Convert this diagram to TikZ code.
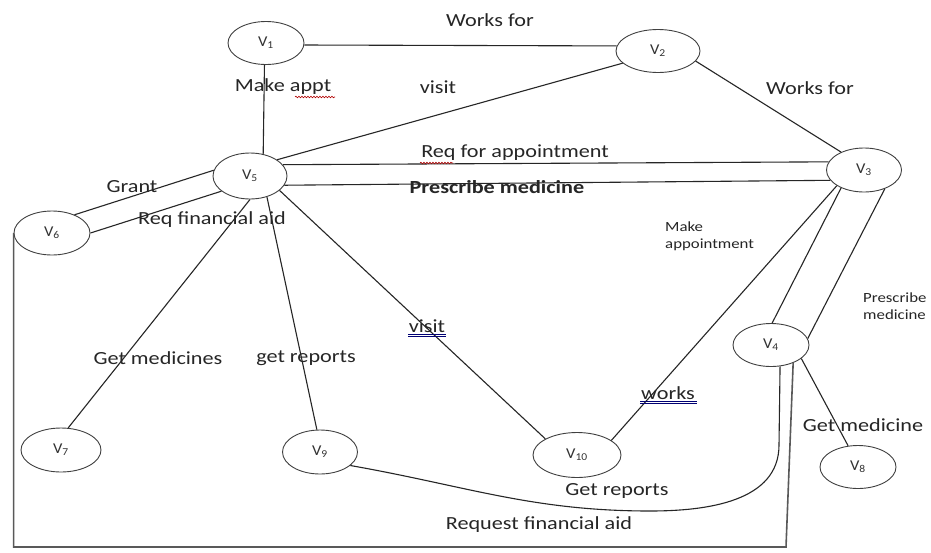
\documentclass[tikz,border=0pt]{standalone}
\usepackage{fontspec}
\setmainfont{Carlito}
\usepackage{graphicx}
\usetikzlibrary{shapes.geometric,decorations.pathmorphing}
\newcommand{\lbl}[1]{\scalebox{1.2}[1]{#1}}
\newcommand{\vx}[1]{\scalebox{1.1}[1]{V\textsubscript{#1}}}
\begin{document}
\begin{tikzpicture}[x=1pt,y=1pt,
  vert/.style={ellipse, draw=black!75, line width=0.9pt, inner sep=0pt, minimum width=76pt, minimum height=43pt, font=\fontsize{15}{16}\selectfont, text=black!80},
  edge/.style={draw=black!85, line width=1.1pt},
  elabel/.style={font=\fontsize{18.5}{20}\selectfont, text=black!85, inner sep=0pt},
  slabel/.style={font=\fontsize{14}{16}\selectfont, text=black!85, inner sep=0pt, anchor=west},
  redsq/.style={draw=red!70!black, line width=0.6pt, decorate, decoration={snake, amplitude=0.8pt, segment length=3pt}},
  bluel/.style={draw=blue!45!black, line width=0.7pt}
]
\useasboundingbox (0,0) rectangle (931,-552);
\fill[white] (0,0) rectangle (931,-552);

% vertices
\node[vert] (V1) at (266,-43) {\vx{1}};
\node[vert, minimum width=84pt] (V2) at (658,-51) {\vx{2}};
\node[vert, minimum width=75pt, minimum height=44pt] (V3) at (864,-170) {\vx{3}};
\node[vert] (V4) at (771,-345) {\vx{4}};
\node[vert, minimum width=74pt, minimum height=46pt] (V5) at (250,-176) {\vx{5}};
\node[vert, minimum height=44pt] (V6) at (52,-233) {\vx{6}};
\node[vert, minimum width=80pt, minimum height=44pt] (V7) at (61,-450) {\vx{7}};
\node[vert] (V8) at (858,-467) {\vx{8}};
\node[vert, minimum width=75pt, minimum height=44pt] (V9) at (320,-452) {\vx{9}};
\node[vert, minimum width=88pt, minimum height=45pt] (V10) at (577,-455) {\vx{10}};

% edges
\draw[edge] (V1.-3) -- (V2.173);
\draw[edge] (V1.-94) -- (V5.59);
\draw[edge] (V2.199) -- (V5.31);
\draw[edge] (V2.-15) -- (V3.142);
\draw[edge] (V5.19) -- (V3.167);
\draw[edge] (V5.-15) -- (V3.-163);
\draw[edge] (V6.39) -- (V5.171);
\draw[edge] (V6.east) -- (V5.-152);
\draw[edge] (V5.south) -- (V7.72);
\draw[edge] (V5.-51) -- (V9.98);
\draw[edge] (V5.-26) -- (V10.153);
\draw[edge] (V3.-150) -- (V10.23);
\draw[edge] (V3.-142) -- (V4.87);
\draw[edge] (V3.-42) -- (V4.10);
\draw[edge] (V4.-24) -- (V8.115);
\coordinate (gr1) at (650,-511);
\coordinate (gr2) at (779,-445);
\draw[edge] (V9.-24) to[out=-10,in=180] (gr1) to[out=0,in=-90] (gr2) -- (V4.-67);
\coordinate (br) at (786,-547);
\draw[edge, draw=black!65, line width=1.6pt] (V6.west) -- (V6.west |- br) -- (br) -- (V4.-39);

% labels
\node[elabel] (lWorks1) at (490,-20) {\lbl{Works for}};
\node[elabel] (lMakeAppt) at (283,-87) {\lbl{Make appt}};
\node[elabel] (lVisit1) at (438,-87) {\lbl{visit}};
\node[elabel] (lWorks2) at (810,-88) {\lbl{Works for}};
\node[elabel] (lReqApp) at (515,-153) {\lbl{Req for appointment}};
\node[elabel] (lPresc) at (497,-187) {\lbl{\textbf{Prescribe medicine}}};
\node[elabel] (lGrant) at (132,-187) {\lbl{Grant}};
\node[elabel] (lReqFin) at (212,-220) {\lbl{Req financial aid}};
\node[slabel] (lMake) at (665,-227) {\lbl{Make}};
\node[slabel] (lAppointment) at (665,-245) {\lbl{appointment}};
\node[slabel] (lPresc2) at (863,-298) {\lbl{Prescribe}};
\node[slabel] (lMed2) at (863,-315) {\lbl{medicine}};
\node[elabel] (lGetMeds) at (158,-358) {\lbl{Get medicines}};
\node[elabel] (lGetRep1) at (306,-358) {\lbl{get reports}};
\node[elabel] (lVisit2) at (427,-326) {\lbl{visit}};
\node[elabel] (lWorks3) at (668,-393) {\lbl{works}};
\node[elabel] (lGetMed) at (863,-425) {\lbl{Get medicine}};
\node[elabel] (lGetRep2) at (617,-491) {\lbl{Get reports}};
\node[elabel] (lReqFin2) at (539,-525) {\lbl{Request financial aid}};

% spell-check underlines
\draw[redsq] (295,-97) -- (335,-97);
\draw[redsq] (420,-163) -- (453,-163);
\draw[bluel] (408,-334) -- (446,-334);
\draw[bluel] (408,-336.5) -- (446,-336.5);
\draw[bluel] (640,-401) -- (697,-401);
\draw[bluel] (640,-403.5) -- (697,-403.5);
\end{tikzpicture}
\end{document}
